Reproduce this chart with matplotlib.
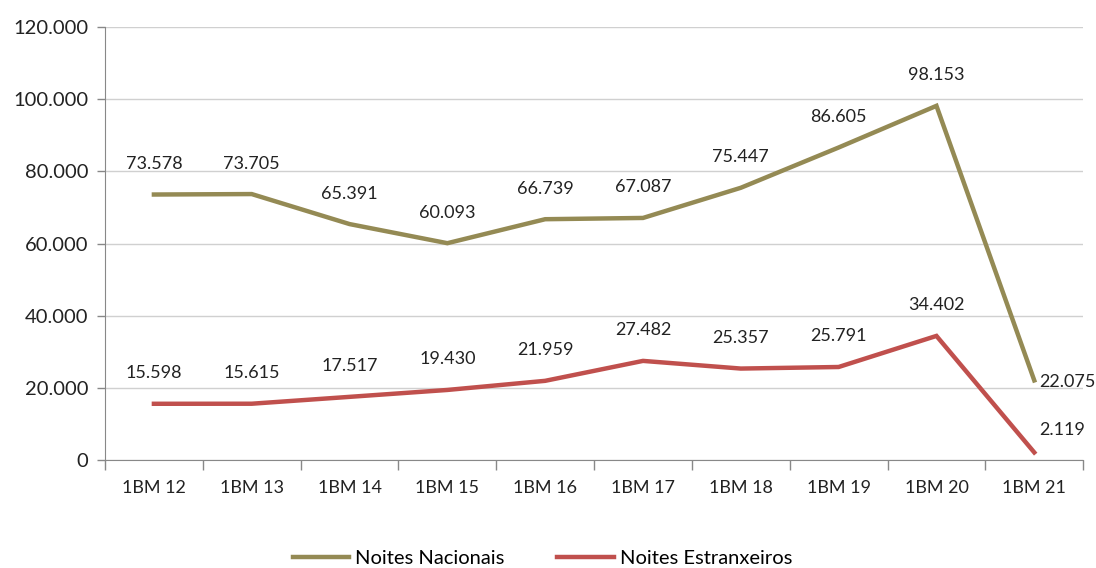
import matplotlib
matplotlib.use("Agg")
import matplotlib.pyplot as plt
from matplotlib.ticker import FuncFormatter, FixedLocator

categories = ["1BM 12", "1BM 13", "1BM 14", "1BM 15", "1BM 16", "1BM 17", "1BM 18", "1BM 19", "1BM 20", "1BM 21"]
nacionais = [73578, 73705, 65391, 60093, 66739, 67087, 75447, 86605, 98153, 22075]
estrangeiros = [15598, 15615, 17517, 19430, 21959, 27482, 25357, 25791, 34402, 2119]
series_names = ["Noites Nacionais", "Noites Estranxeiros"]

plt.rcParams['font.family'] = ['Lato', 'DejaVu Sans']

def fmt(v):
    return f"{int(round(v)):,}".replace(",", ".")

fig = plt.figure(figsize=(10.96, 5.68), dpi=100)
ax = fig.add_axes([0.0958, 0.19, 0.8925, 0.7625])

x = list(range(len(categories)))
c1, c2 = "#948A54", "#C0504D"
l1, = ax.plot(x, nacionais, color=c1, lw=3.2, solid_joinstyle='miter', label=series_names[0])
l2, = ax.plot(x, estrangeiros, color=c2, lw=3.2, solid_joinstyle='miter', label=series_names[1])

lab_fs = 13
for i, v in enumerate(nacionais):
    if i == len(nacionais) - 1:
        ax.annotate(fmt(v), (i, v), xytext=(24, -1), textcoords='offset points', ha='center', va='center', fontsize=lab_fs, color='#222222')
    else:
        ax.annotate(fmt(v), (i, v), xytext=(0, 22), textcoords='offset points', ha='center', va='center', fontsize=lab_fs, color='#222222')
for i, v in enumerate(estrangeiros):
    if i == len(estrangeiros) - 1:
        ax.annotate(fmt(v), (i, v), xytext=(20, 16), textcoords='offset points', ha='center', va='center', fontsize=lab_fs, color='#222222')
    else:
        ax.annotate(fmt(v), (i, v), xytext=(0, 22), textcoords='offset points', ha='center', va='center', fontsize=lab_fs, color='#222222')

ax.set_xlim(-0.5, len(categories) - 0.5)
ax.set_ylim(0, 120000)
ax.set_yticks(range(0, 120001, 20000))
ax.yaxis.set_major_formatter(FuncFormatter(lambda v, p: fmt(v)))
ax.tick_params(axis='y', length=6, width=1, color='#888888', labelsize=14.5, labelcolor='#222222', pad=6)
ax.set_xticks(x)
ax.set_xticklabels(categories)
ax.xaxis.set_minor_locator(FixedLocator([i - 0.5 for i in range(len(categories) + 1)]))
ax.tick_params(axis='x', which='major', length=0, labelsize=13, labelcolor='#222222', pad=14)
ax.tick_params(axis='x', which='minor', length=7, width=1, color='#888888')
ax.grid(axis='y', color='#D0D0D0', lw=1)
ax.set_axisbelow(True)
for s in ['top', 'right']:
    ax.spines[s].set_visible(False)
ax.spines['left'].set_color('#888888')
ax.spines['bottom'].set_color('#888888')

fig.legend(handles=[l1, l2], loc='lower center', bbox_to_anchor=(0.495, -0.03), ncol=2, frameon=False,
           fontsize=14.5, handlelength=2.8, columnspacing=2.6, handletextpad=0.3)

fig.savefig("out.png", dpi=100)
